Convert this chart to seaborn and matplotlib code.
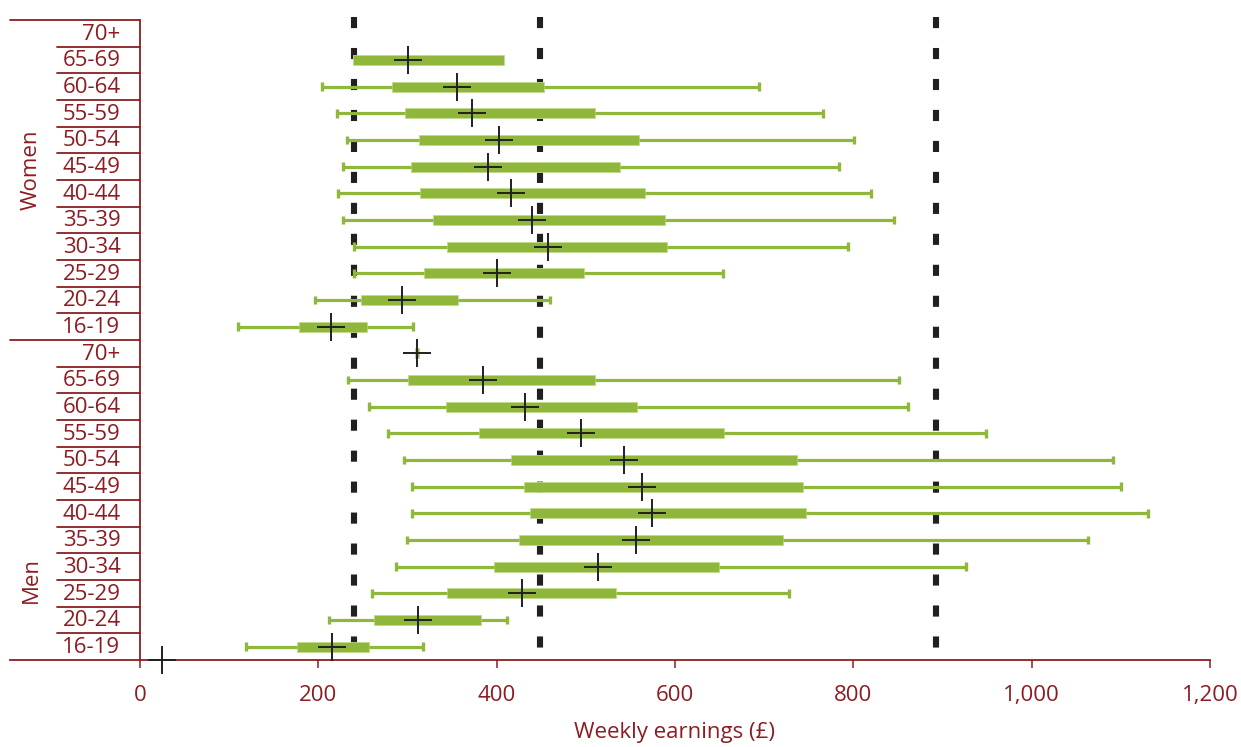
import numpy as np
import pandas as pd
import matplotlib
matplotlib.use("Agg")
import matplotlib.pyplot as plt
import seaborn as sns

# ---------------- data ----------------
age_groups = ["70+", "65-69", "60-64", "55-59", "50-54", "45-49", "40-44",
              "35-39", "30-34", "25-29", "20-24", "16-19"]
sexes = ["Women", "Men"]

nan = np.nan
# Women (top to bottom: 70+ ... 16-19)
women_p10 = [nan, nan, 204, 221, 232, 227, 222, 228, 240, 240, 196, 110]
women_q1 = [nan, 239, 283, 297, 313, 304, 314, 329, 344, 318, 248, 178]
women_med = [nan, 300, 355, 372, 403, 390, 416, 440, 457, 400, 294, 214]
women_q3 = [nan, 408, 453, 510, 559, 538, 566, 589, 591, 498, 356, 254]
women_p90 = [nan, nan, 694, 766, 801, 784, 820, 846, 794, 654, 460, 306]
# Men (top to bottom: 70+ ... 16-19)
men_p10 = [nan, 233, 257, 278, 296, 305, 305, 299, 287, 260, 212, 119]
men_q1 = [308, 300, 343, 380, 416, 430, 437, 425, 397, 344, 262, 176]
men_med = [311, 384, 432, 495, 543, 563, 574, 556, 514, 428, 312, 215]
men_q3 = [313, 510, 557, 655, 737, 744, 747, 721, 649, 534, 382, 257]
men_p90 = [nan, 851, 861, 949, 1091, 1100, 1130, 1063, 926, 728, 412, 317]

stray_cross_x = [25]          # isolated cross drawn on the axis baseline
reference_lines = [240, 449, 893]
x_ticks = [0, 200, 400, 600, 800, 1000, 1200]
x_tick_labels = ["0", "200", "400", "600", "800", "1,000", "1,200"]
x_label = "Weekly earnings (£)"

# ---------------- build table ----------------
df = pd.DataFrame({
    "sex": np.repeat(sexes, len(age_groups)),
    "age": age_groups * 2,
    "p10": women_p10 + men_p10,
    "q1": women_q1 + men_q1,
    "median": women_med + men_med,
    "q3": women_q3 + men_q3,
    "p90": women_p90 + men_p90,
})
df["row"] = np.arange(len(df))

# ---------------- style ----------------
sns.set_theme(style="white")
plt.rcParams["font.family"] = ["Open Sans", "DejaVu Sans"]
plt.rcParams["lines.scale_dashes"] = False

RED = "#8c1c22"
GREEN = "#8fb73c"
DARK = "#231f20"

W, H = 1241, 747
fig = plt.figure(figsize=(W / 100, H / 100), dpi=100)
ax = fig.add_axes([10 / W, (H - 660) / H, 1200 / W, 640 / H])

nrows = len(df)
ax.set_xlim(-146, 1200)
ax.set_ylim(nrows - 0.5, -0.5)
row_px = 640 / nrows

# reference dashed lines
for xv in reference_lines:
    ax.plot([xv, xv], [-0.5 - 3 / row_px, nrows - 0.5], color=DARK,
            lw=4.4, dashes=(8, 14.3), solid_capstyle="butt",
            dash_capstyle="butt", clip_on=False, zorder=2)

# boxes (interquartile)
box = df.dropna(subset=["q1", "q3"])
ax.barh(box["row"], box["q3"] - box["q1"], left=box["q1"], height=0.37,
        color=GREEN, edgecolor="#c3db8c", linewidth=0.6, zorder=3)

# whiskers
wl = df.dropna(subset=["p10"])
ax.hlines(wl["row"], wl["p10"], wl["q1"], color=GREEN, lw=2.3, zorder=3)
ax.vlines(wl["p10"], wl["row"] - 0.16, wl["row"] + 0.16, color=GREEN, lw=2.4,
          zorder=3)
wr = df.dropna(subset=["p90"])
ax.hlines(wr["row"], wr["q3"], wr["p90"], color=GREEN, lw=2.3, zorder=3)
ax.vlines(wr["p90"], wr["row"] - 0.16, wr["row"] + 0.16, color=GREEN, lw=2.4,
          zorder=3)

# medians
med = df.dropna(subset=["median"])
sns.scatterplot(data=med, x="median", y="row", marker="+", s=420,
                color=DARK, linewidth=1.4, ax=ax, zorder=5, legend=False)
ax.scatter(stray_cross_x, [nrows - 0.5], marker="+", s=420, color=DARK,
           linewidth=1.4, zorder=5, clip_on=False)

# axes frame
for s in ["left", "top", "right"]:
    ax.spines[s].set_visible(False)
ax.spines["bottom"].set_color(RED)
ax.spines["bottom"].set_linewidth(1.3)
ax.plot([0, 0], [-0.5, nrows - 0.5], color=RED, lw=1.3, clip_on=False,
        zorder=4)

ax.set_xticks(x_ticks)
ax.set_xticklabels(x_tick_labels)
ax.tick_params(axis="x", direction="out", length=6, width=1.1, color=RED,
               labelcolor=RED, labelsize=16, pad=12, bottom=True)
ax.set_yticks([])
ax.set_ylabel("")
ax.set_xlabel(x_label, color=RED, fontsize=16)
# centre the axis title on the 0-1,200 scale (px 675) near the bottom edge
ax.xaxis.set_label_coords(665 / 1200, -62 / 640)

# category labels and separators
for i, r in df.iterrows():
    ax.text(-22, r["row"] + 0.03, r["age"], ha="right", va="center",
            fontsize=16, color=RED)
for b in range(nrows + 1):
    yb = b - 0.5
    if b % len(age_groups) == 0:
        if b == nrows:
            continue
        ax.plot([-146, 0], [yb, yb], color=RED, lw=1.3, clip_on=False)
    else:
        ax.plot([-93, 0], [yb, yb], color=RED, lw=1.3, clip_on=False)

# group labels
ax.text(-122, 5.1, "Women", rotation=90, ha="center", va="center",
        fontsize=16, color=RED)
ax.text(-122, 20.5, "Men", rotation=90, ha="center", va="center",
        fontsize=16, color=RED)

fig.savefig("out.png", dpi=100)
